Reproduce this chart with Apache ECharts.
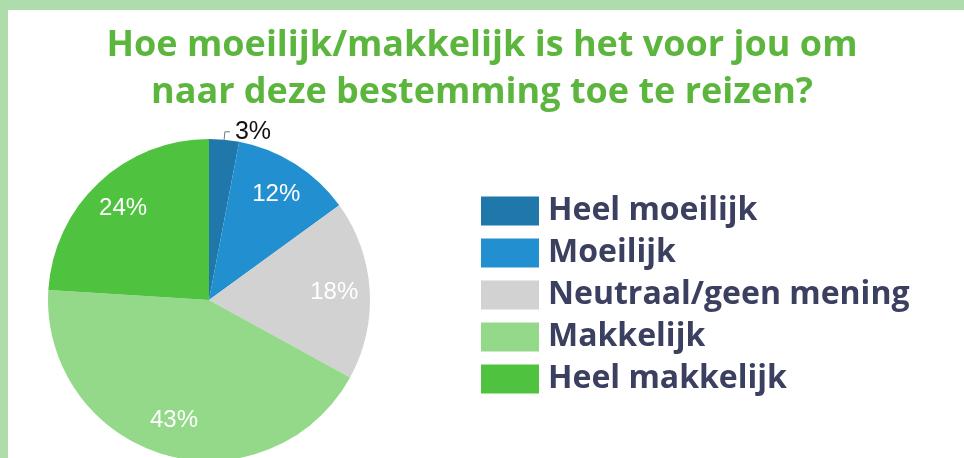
<!DOCTYPE html>
<html>
<head>
<meta charset="utf-8">
<script src="https://cdn.jsdelivr.net/npm/echarts@6/dist/echarts.min.js"></script>
<style>
  html, body { margin: 0; padding: 0; background: #ffffff; }
  #chart { width: 964px; height: 458px; }
</style>
</head>
<body>
<div id="chart"></div>
<script>
const titleLines = ['Hoe moeilijk/makkelijk is het voor jou om', 'naar deze bestemming toe te reizen?'];
const categories = ['Heel moeilijk', 'Moeilijk', 'Neutraal/geen mening', 'Makkelijk', 'Heel makkelijk'];
const values = [3, 12, 18, 43, 24];
const colors = ['#1f78a9', '#2290d0', '#d2d2d2', '#94d98a', '#4fc340'];

const chart = echarts.init(document.getElementById('chart'), null, { renderer: 'canvas' });

const mainData = categories.map((name, i) => ({
  name: name,
  value: values[i],
  itemStyle: { color: colors[i] },
  label: values[i] < 5 ? {
    show: true, position: 'outside', color: '#111111',
    fontFamily: 'Liberation Sans', fontSize: 25,
    formatter: '{c}%'
  } : { show: false },
  labelLine: values[i] < 5 ? { show: true, length: 8, length2: 5, lineStyle: { color: '#777777', width: 1 } } : { show: false }
}));

const overlayData = categories.map((name, i) => ({ name: name, value: values[i] }));

chart.setOption({
  backgroundColor: '#ffffff',
  animation: false,
  graphic: [
    { type: 'rect', left: 0, top: 0, shape: { width: 964, height: 10 }, style: { fill: '#aedcaa' }, silent: true },
    { type: 'rect', left: 0, top: 0, shape: { width: 8, height: 458 }, style: { fill: '#aedcaa' }, silent: true }
  ],
  title: {
    text: titleLines.join('\n'),
    left: 'center',
    top: 17,
    textStyle: {
      fontFamily: 'Open Sans', fontWeight: 'bold', fontSize: 36,
      color: '#5cb53d', lineHeight: 47
    }
  },
  legend: {
    orient: 'vertical',
    left: 476, top: 190,
    itemWidth: 58, itemHeight: 29, itemGap: 10,
    icon: 'rect',
    data: categories,
    textStyle: {
      fontFamily: 'Open Sans', fontWeight: 'bold', fontSize: 32,
      color: '#3c4060', padding: [0, 0, 0, 4]
    }
  },
  series: [
    {
      type: 'pie',
      center: [209, 300],
      radius: 161,
      startAngle: 90,
      clockwise: true,
      avoidLabelOverlap: false,
      emphasis: { disabled: true },
      data: mainData
    },
    {
      type: 'pie',
      center: [209, 300],
      radius: [84, 161],
      startAngle: 90,
      clockwise: true,
      silent: true,
      avoidLabelOverlap: false,
      emphasis: { disabled: true },
      itemStyle: { color: 'rgba(0,0,0,0)' },
      label: {
        show: true, position: 'inside', color: '#ffffff',
        fontFamily: 'Liberation Sans', fontSize: 24,
        formatter: p => (p.value >= 5 ? p.value + '%' : '')
      },
      labelLine: { show: false },
      data: overlayData
    }
  ]
});
</script>
</body>
</html>
